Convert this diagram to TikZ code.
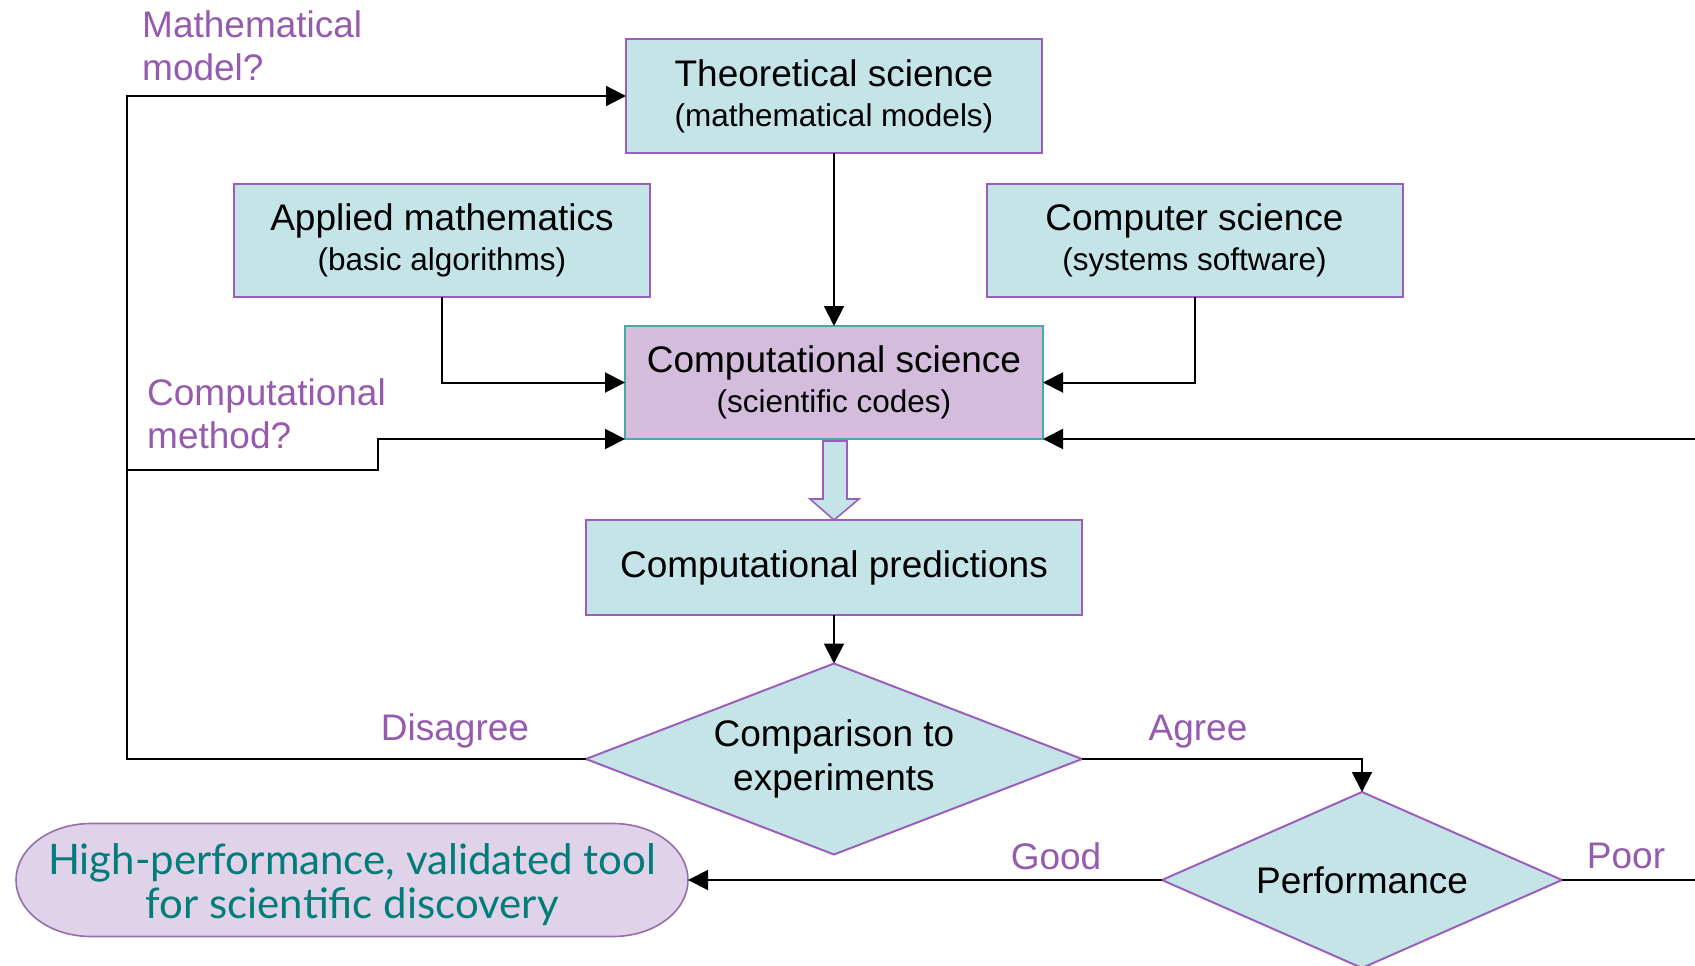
\documentclass[tikz,border=0pt]{standalone}
\usepackage{fontspec}
\setmainfont{Liberation Sans}
\newfontfamily\toolfont{Lato}
\usetikzlibrary{arrows.meta,shapes.geometric,calc,backgrounds}
\definecolor{boxfill}{RGB}{197,228,232}
\definecolor{boxline}{RGB}{155,95,185}
\definecolor{csfill}{RGB}{212,188,220}
\definecolor{csline}{RGB}{70,170,170}
\definecolor{lblcol}{RGB}{150,90,175}
\definecolor{toolfill}{RGB}{224,210,232}
\definecolor{toolline}{RGB}{150,110,170}
\definecolor{tooltext}{RGB}{0,125,120}
\newcommand{\subline}[1]{{\fontsize{31.5}{40}\selectfont #1}}
\begin{document}
\begin{tikzpicture}[x=1pt,y=-1pt,
  box/.style={draw=boxline,fill=boxfill,line width=2pt,minimum width=416pt,minimum height=113pt,inner sep=0pt,outer sep=0pt,align=center,font=\fontsize{37}{40}\selectfont},
  dia/.style={diamond,draw=boxline,fill=boxfill,line width=2pt,inner sep=0pt,outer sep=0pt,align=center,font=\fontsize{37}{44}\selectfont},
  conn/.style={line width=2pt,-{Triangle[length=20pt,width=20pt]}},
  plainline/.style={line width=2pt},
  lbl/.style={text=lblcol,font=\fontsize{37}{43}\selectfont,inner sep=0pt,align=left},
  hollow/.style={line width=1.6pt,draw=boxline,fill=boxfill,line join=miter},
  toolshape/.style={line width=1.6pt,draw=toolline,fill=toolfill}]
\useasboundingbox (0,0) rectangle (1695,966);
\clip (0,0) rectangle (1695,966);

% boxes
\node[box] (theo) at (834,96) {Theoretical science\\\subline{(mathematical models)}};
\node[box] (appl) at (442,240) {Applied mathematics\\\subline{(basic algorithms)}};
\node[box] (comp) at (1194.5,240) {Computer science\\\subline{(systems software)}};
\node[box,fill=csfill,draw=csline,minimum width=418pt] (cs) at (834,382.5) {Computational science\\\subline{(scientific codes)}};
\node[box,minimum width=496pt,minimum height=95pt] (pred) at (834,567.5) {Computational predictions};
\node[dia,aspect=2.6,minimum width=496pt,minimum height=191pt] (cmp) at (834,759) {Comparison to\\experiments};
\node[dia,aspect=2.27,minimum width=400pt,minimum height=176pt] (perf) at (1362,880) {Performance};

% final tool
\node[inner sep=0pt,text=tooltext,align=center,font=\toolfont\fontsize{42}{44}\selectfont] (tool) at (352,885) {High-performance, validated tool\\for scientific discovery};
\coordinate (tc) at ([yshift=5pt]tool.center);
\coordinate (te) at ($(tc)+(336,0)$);
\begin{scope}[on background layer]
\draw[toolshape] ($(tc)+(-261,-56.5)$) -- ($(tc)+(261,-56.5)$)
  arc[start angle=-90,end angle=90,x radius=75,y radius=56.5]
  -- ($(tc)+(-261,56.5)$)
  arc[start angle=90,end angle=270,x radius=75,y radius=56.5] -- cycle;
\end{scope}

% hollow arrow
\draw[hollow] (823,441) -- (847,441) -- (847,499) -- (859,499) -- (834,520) -- (810,499) -- (823,499) -- cycle;

% helper coordinates
\coordinate (L1) at (127,759);
\coordinate (L2) at (127,470);
\coordinate (S1) at (378,470);
\coordinate (R1) at (1695,439);
\coordinate (R2) at (1695,880);

% connectors
\draw[conn] (cmp.west) -- (L1) |- (theo.west);
\draw[conn] (L2) -- (S1) |- (cs.south west);
\draw[conn] (appl.south) |- (cs.west);
\draw[conn] (comp.south) |- (cs.east);
\draw[conn] (theo.south) -- (cs.north);
\draw[conn] (R1) -- (cs.south east);
\draw[conn] (pred.south) -- (cmp.north);
\draw[conn] (cmp.east) -| (perf.north);
\draw[conn] (perf.west) -- (te);
\draw[plainline] (perf.east) -- (R2);

% labels
\node[lbl,anchor=north west] (lmm) at (142,10) {Mathematical\\model?};
\node[lbl,anchor=north west] (lcm) at (147,378) {Computational\\method?};
\node[lbl,anchor=base] (ldis) at (455,740) {Disagree};
\node[lbl,anchor=base] (lagr) at (1198,740) {Agree};
\node[lbl,anchor=base] (lgood) at (1056,869) {Good};
\node[lbl,anchor=base] (lpoor) at (1626,868) {Poor};
\end{tikzpicture}
\end{document}
